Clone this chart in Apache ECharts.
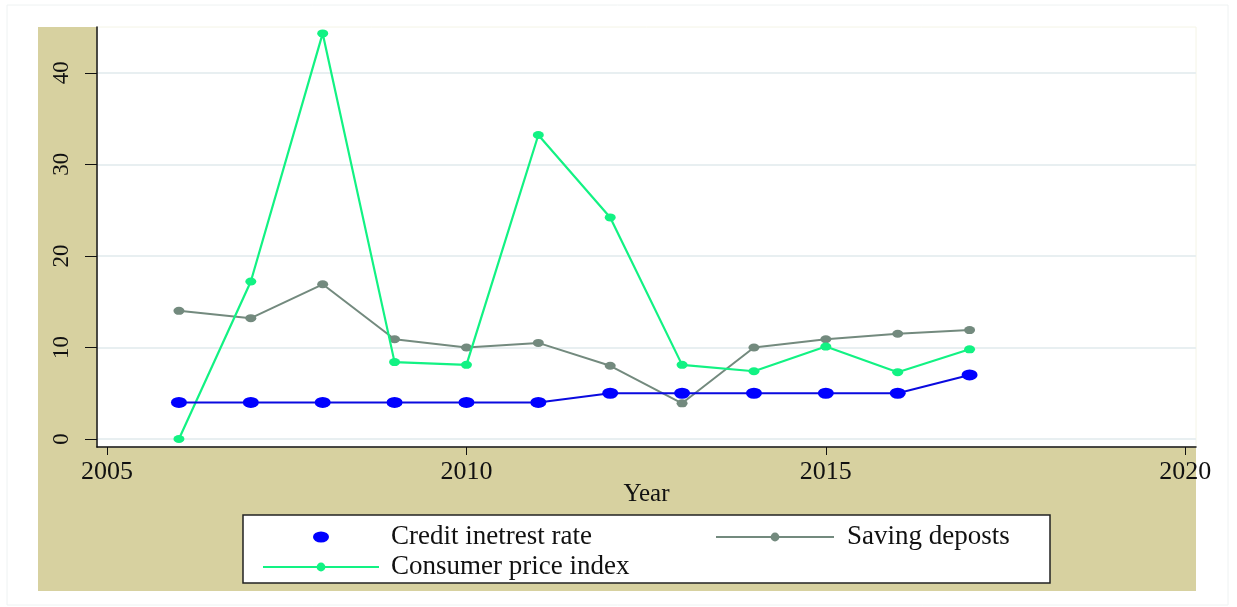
<!DOCTYPE html>
<html>
<head>
<meta charset="utf-8">
<script src="https://cdn.jsdelivr.net/npm/echarts@6/dist/echarts.min.js"></script>
<style>
  html, body { margin: 0; padding: 0; background: #fff; }
  #chart { width: 1237px; height: 607px; }
</style>
</head>
<body>
<div id="chart"></div>
<script>
// 数据
var years = [2006, 2007, 2008, 2009, 2010, 2011, 2012, 2013, 2014, 2015, 2016, 2017];
var creditRate = [4, 4, 4, 4, 4, 4, 5, 5, 5, 5, 5, 7];
var savingDeposits = [14, 13.2, 16.9, 10.9, 10, 10.5, 8, 3.9, 10, 10.9, 11.5, 11.9];
var cpi = [0, 17.2, 44.3, 8.4, 8.1, 33.2, 24.2, 8.1, 7.4, 10.1, 7.3, 9.8];
var xTicks = [2005, 2010, 2015, 2020];
var yTicks = [0, 10, 20, 30, 40];

var serif = '"Liberation Serif", "DejaVu Serif", serif';

function pairs(vals) {
    return years.map(function (y, i) { return [y, vals[i]]; });
}

var chart = echarts.init(document.getElementById('chart'));

var option = {
    animation: false,
    backgroundColor: '#fff',
    graphic: [
        // 外框
        { type: 'rect', z: -10, shape: { x: 7, y: 5, width: 1221, height: 600 },
          style: { fill: '#fff', stroke: '#eef2f2', lineWidth: 1 } },
        // 土黄色背景
        { type: 'rect', z: -9, shape: { x: 38, y: 27, width: 1158, height: 564 },
          style: { fill: '#d7d1a0' } },
        // 图例框
        { type: 'rect', z: 1, shape: { x: 243, y: 515, width: 807, height: 68 },
          style: { fill: '#fff', stroke: '#222', lineWidth: 1.5 } }
    ],
    grid: {
        left: 97, right: 41, top: 27, bottom: 160,
        show: true, backgroundColor: '#fff', borderColor: '#f4f4e6', borderWidth: 1
    },
    legend: [{
        data: [
            { name: 'Credit inetrest rate', icon: 'path://M0,5.5A8,5.5,0,1,1,16,5.5A8,5.5,0,1,1,0,5.5Z' },
            { name: 'Consumer price index' }
        ],
        orient: 'vertical', left: 257, top: 518, z: 5,
        itemWidth: 116, itemHeight: 11, itemGap: 2,
        textStyle: { fontFamily: serif, fontSize: 27, lineHeight: 28, color: '#111', padding: [0, 0, 0, 7] }
    }, {
        data: ['Saving deposts'],
        orient: 'vertical', left: 710, top: 518, z: 5,
        itemWidth: 118, itemHeight: 11,
        textStyle: { fontFamily: serif, fontSize: 27, lineHeight: 28, color: '#111', padding: [0, 0, 0, 8] }
    }],
    xAxis: {
        type: 'value', min: 2004.86, max: 2020.15,
        name: 'Year', nameLocation: 'middle', nameGap: 35, nameMoveOverlap: false,
        nameTextStyle: { fontFamily: serif, fontSize: 25, color: '#111' },
        axisLine: { show: true, onZero: false, lineStyle: { color: '#111', width: 1.5 } },
        axisTick: { show: true, length: 8, customValues: xTicks, lineStyle: { color: '#111' } },
        axisLabel: {
            customValues: xTicks, margin: 12, fontFamily: serif, fontSize: 26, color: '#111',
            formatter: function (v) { return String(v); }
        },
        splitLine: { show: false }
    },
    yAxis: {
        type: 'value', min: -0.87, max: 45,
        axisLine: { show: true, lineStyle: { color: '#111', width: 1.5 } },
        axisTick: { show: true, length: 12, customValues: yTicks, lineStyle: { color: '#111' } },
        axisLabel: { customValues: yTicks, rotate: 90, margin: 24, fontFamily: serif, fontSize: 23, color: '#111' },
        splitLine: { show: true, lineStyle: { color: '#e8eff1', width: 2 } }
    },
    series: [{
        name: 'Credit inetrest rate', type: 'line', data: pairs(creditRate),
        symbol: 'circle', symbolSize: [16, 11], z: 4,
        itemStyle: { color: '#0000ff' },
        lineStyle: { color: '#0a0adf', width: 2 }
    }, {
        name: 'Saving deposts', type: 'line', data: pairs(savingDeposits),
        symbol: 'circle', symbolSize: [11, 8], z: 2,
        itemStyle: { color: '#738a7e' },
        lineStyle: { color: '#738a7e', width: 2 }
    }, {
        name: 'Consumer price index', type: 'line', data: pairs(cpi),
        symbol: 'circle', symbolSize: [11, 8], z: 3,
        itemStyle: { color: '#12f283' },
        lineStyle: { color: '#12f283', width: 2.2 }
    }]
};

chart.setOption(option);
window.addEventListener('resize', function () {
    chart.resize();
});
</script>
</body>
</html>
